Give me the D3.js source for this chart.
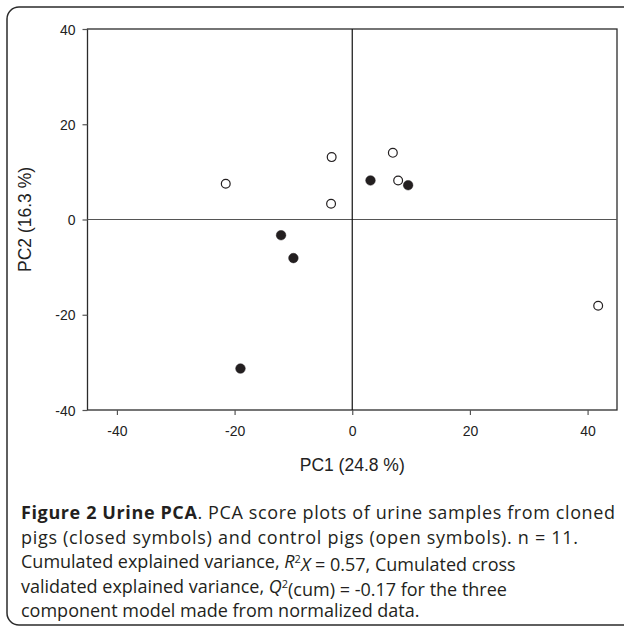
<!DOCTYPE html>
<html>
<head>
<meta charset="utf-8">
<script src="https://cdn.jsdelivr.net/npm/d3@7"></script>
<style>
body{margin:0;background:#fff;}
svg{display:block;}
</style>
</head>
<body>
<div id="pcaDiv"></div>
<script>
// PCA scores
let pc1 = [-21.5, -3.5, -3.6, 6.9, 7.8, 41.8, 3.1, 9.5, -12.1, -10.0, -19.0];
let pc2 = [7.5, 13.1, 3.3, 14.0, 8.2, -18.1, 8.2, 7.2, -3.3, -8.1, -31.3];
let group = ["control","control","control","control","control","control","cloned","cloned","cloned","cloned","cloned"];

let xTicks = [-40, -20, 0, 20, 40];
let yTicks = [-40, -20, 0, 20, 40];
let xTitle = "PC1 (24.8 %)";
let yTitle = "PC2 (16.3 %)";

let width = 624, height = 630;
let body = d3.select("#pcaDiv").append("svg").attr("width", width).attr("height", height);

// rounded figure box, right side runs off the page
body.append("path")
  .attr("d", "M630,7 H19 A12,12 0 0 0 7,19 V613 A12,12 0 0 0 19,625 H630")
  .style("fill", "none").style("stroke", "#2b2b2b").style("stroke-width", 1.5);

let plotL = 87.5, plotR = 617, plotT = 29, plotB = 410;
let scaleX = d3.scaleLinear().domain([-45, 45]).range([plotL, plotR]);
let scaleY = d3.scaleLinear().domain([-40, 40]).range([plotB, plotT]);

let data = pc1.map((d, i) => ({x: d, y: pc2[i], g: group[i]}));

// frame
body.append("rect").attr("x", plotL).attr("y", plotT)
  .attr("width", plotR - plotL).attr("height", plotB - plotT)
  .style("fill", "none").style("stroke", "#2b2b2b").style("stroke-width", 1.3);

// zero lines
body.append("line").attr("x1", plotL).attr("x2", plotR)
  .attr("y1", scaleY(0)).attr("y2", scaleY(0))
  .style("stroke", "#555").style("stroke-width", 1.2);
body.append("line").attr("x1", scaleX(0)).attr("x2", scaleX(0))
  .attr("y1", plotT).attr("y2", plotB)
  .style("stroke", "#111").style("stroke-width", 1.2);

let axisXgen = d3.axisBottom(scaleX).tickValues(xTicks).tickSize(5).tickPadding(11).tickFormat(d => String(d));
let axisYgen = d3.axisLeft(scaleY).tickValues(yTicks).tickSize(5).tickPadding(7).tickFormat(d => String(d));

let gx = body.append("g").attr("id", "x-axis").attr("transform", "translate(0," + plotB + ")").call(axisXgen);
let gy = body.append("g").attr("id", "y-axis").attr("transform", "translate(" + plotL + ",0)").call(axisYgen);

[gx, gy].forEach(g => {
  g.select(".domain").remove();
  g.selectAll(".tick line").style("stroke", "#555").style("stroke-width", 1.2);
  g.selectAll(".tick text").style("font-family", "Liberation Sans, Arial, sans-serif")
    .style("font-size", "14px").style("fill", "#222");
});
gy.selectAll(".tick text").attr("dy", "0.36em");

// axis titles
body.append("text").text(xTitle)
  .attr("x", scaleX(0)).attr("y", 471).attr("text-anchor", "middle")
  .style("font-family", "Liberation Sans, Arial, sans-serif").style("font-size", "17.5px").style("fill", "#222");
body.append("text").text(yTitle)
  .attr("transform", "translate(31," + scaleY(0) + ") rotate(-90)").attr("text-anchor", "middle")
  .style("font-family", "Liberation Sans, Arial, sans-serif").style("font-size", "17.5px").style("fill", "#222");

// points
body.selectAll("circle.pt").data(data).enter().append("circle")
  .attr("class", "pt")
  .attr("cx", d => scaleX(d.x))
  .attr("cy", d => scaleY(d.y))
  .attr("r", d => d.g == "cloned" ? 4.8 : 4.4)
  .style("fill", d => d.g == "cloned" ? "#231f20" : "#fff")
  .style("stroke", "#231f20")
  .style("stroke-width", d => d.g == "cloned" ? 0.5 : 1.2);

// caption, one text per line; the first two are stretched to the width seen in the figure
let capX = 21, capY = 519, capStep = 24.5;
let lines = [0, 1, 2, 3, 4].map(i => body.append("text")
  .attr("x", capX).attr("y", capY + capStep * i)
  .style("font-family", "Open Sans, sans-serif").style("font-size", "18px").style("fill", "#231f20"));
lines[0].attr("textLength", 594).attr("lengthAdjust", "spacing");
lines[1].attr("textLength", 557).attr("lengthAdjust", "spacing");

lines[0].append("tspan").text("Figure 2 Urine PCA").style("font-weight", "bold");
lines[0].append("tspan").text(". PCA score plots of urine samples from cloned");

lines[1].text("pigs (closed symbols) and control pigs (open symbols). n = 11.");

lines[2].append("tspan").text("Cumulated explained variance, ");
lines[2].append("tspan").text("R").style("font-style", "italic");
lines[2].append("tspan").text("2").attr("dy", "-0.45em").style("font-size", "11px");
lines[2].append("tspan").text("X").attr("dy", "0.45em").style("font-style", "italic");
lines[2].append("tspan").text(" = 0.57, Cumulated cross");

lines[3].append("tspan").text("validated explained variance, ");
lines[3].append("tspan").text("Q").style("font-style", "italic");
lines[3].append("tspan").text("2").attr("dy", "-0.45em").style("font-size", "11px");
lines[3].append("tspan").text("(cum) = -0.17 for the three").attr("dy", "0.45em");

lines[4].text("component model made from normalized data.");
</script>
</body>
</html>
